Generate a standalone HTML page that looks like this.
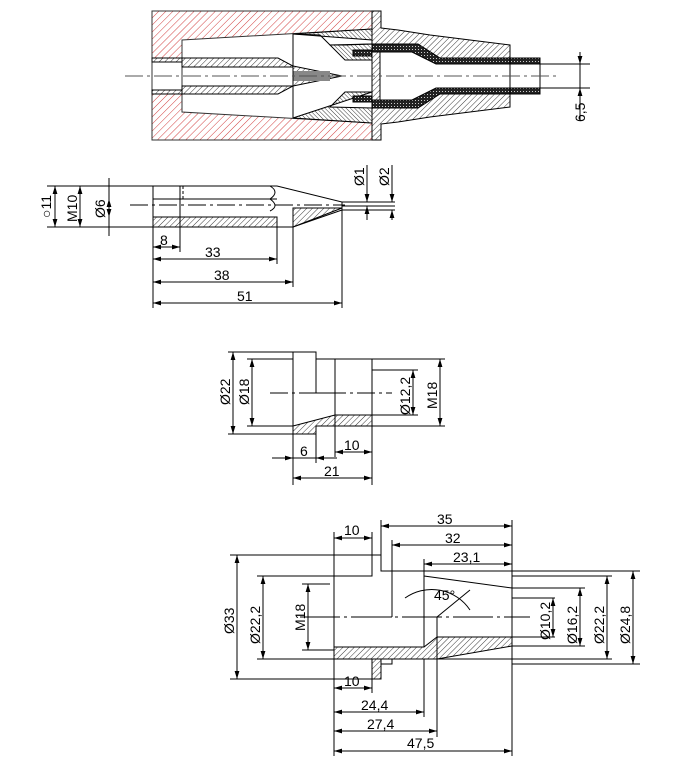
<!DOCTYPE html>
<html><head><style>
html,body{margin:0;padding:0;background:#fff}
svg{display:block}
text{font-family:"Liberation Sans",sans-serif;font-size:14px;fill:#000}
</style></head><body>
<svg width="689" height="768" viewBox="0 0 689 768" xmlns="http://www.w3.org/2000/svg">
<defs>
<pattern id="rh" patternUnits="userSpaceOnUse" width="5" height="5" patternTransform="rotate(45)"><rect width="5" height="5" fill="#fff"/><line x1="0" y1="0" x2="0" y2="5" stroke="#d24040" stroke-width="1"/></pattern>
<pattern id="h" patternUnits="userSpaceOnUse" width="4" height="4" patternTransform="rotate(45)"><rect width="4" height="4" fill="#fff"/><line x1="0" y1="0" x2="0" y2="4" stroke="#222" stroke-width="0.9"/></pattern>
<pattern id="h2" patternUnits="userSpaceOnUse" width="3" height="3" patternTransform="rotate(-45)"><rect width="3" height="3" fill="#fff"/><line x1="0" y1="0" x2="0" y2="3" stroke="#222" stroke-width="0.9"/></pattern>
<pattern id="dk" patternUnits="userSpaceOnUse" width="3" height="3"><rect width="3" height="3" fill="#222"/><rect x="1" y="1" width="1" height="1" fill="#ccc"/></pattern>
<marker id="a" viewBox="0 0 10 6" refX="10" refY="3" markerWidth="8" markerHeight="5" orient="auto-start-reverse"><path d="M0,0L10,3L0,6z" fill="#000"/></marker>
</defs>
<g stroke="#000" stroke-width="1" fill="none">
<path d="M152,11H372V140H152Z M182,40L372,29V123L182,112Z M152,62H182V90H152Z" fill="url(#rh)" fill-rule="evenodd" stroke="#333"/>
<path d="M152,58H182V62H152Z M152,90H182V94H152Z" fill="url(#h)"/>
<path d="M182,58H278L293,66V86L278,94H182V86H293V67H182Z" fill="url(#h)"/>
<path d="M293,66L342,76L293,86Z" fill="url(#h)"/>
<path d="M293,71H330V81H293Z" fill="#888" stroke="none"/>
<path d="M293,34L372,29V44L330,45L345,60L372,60V40Z" fill="url(#h2)"/>
<path d="M293,34L320,35L330,45H345L372,44" />
<path d="M293,118L372,123V108L330,107L345,92L372,92Z" fill="url(#h2)"/>
<path d="M372,11H381V28L398,30L430,35L510,45V58H425L410,50L380,48V104L410,102L425,94H510V107L430,117L398,122L381,124V140H372Z" fill="url(#h)"/>
<path d="M372,44H418L440,58H540V64H436L412,52H372Z" fill="url(#dk)"/>
<path d="M372,108H418L440,94H540V88H436L412,100H372Z" fill="url(#dk)"/>
<path d="M353,50H372V56H353Z M353,96H372V102H353Z" fill="url(#dk)"/>
<line x1="293" y1="34" x2="293" y2="118"/>
<line x1="510" y1="45" x2="510" y2="107"/>
<line x1="540" y1="58" x2="540" y2="94"/>
<line x1="125" y1="76" x2="560" y2="76" stroke="#555" stroke-dasharray="18,4,3,4"/>
<line x1="540" y1="64" x2="590" y2="64"/><line x1="540" y1="88" x2="590" y2="88"/>
<line x1="580" y1="52" x2="580" y2="64" marker-end="url(#a)"/><line x1="580" y1="100" x2="580" y2="88" marker-end="url(#a)"/>
<line x1="580" y1="64" x2="580" y2="120"/>

<path d="M153,186H277L342,202V210L293,227H153Z"/>
<path d="M153,217H277V227H153Z M293,208H342L293,227Z" fill="url(#h)"/>
<path d="M277,227L293,227V208" />
<line x1="153" y1="199" x2="180" y2="199"/>
<path d="M153,186H183V199" stroke-dasharray="3,2"/>
<line x1="180" y1="199" x2="277" y2="199"/>
<line x1="180" y1="186" x2="180" y2="227"/>
<path d="M270,186Q280,192 270,199 M270,199Q280,206 270,211"/>
<line x1="130" y1="205" x2="345" y2="205" stroke-dasharray="18,4,3,4"/>
<line x1="342" y1="202" x2="395" y2="202"/><line x1="342" y1="206" x2="395" y2="206"/><line x1="342" y1="210" x2="395" y2="210"/>
<line x1="47" y1="186" x2="153" y2="186"/><line x1="47" y1="227" x2="153" y2="227"/>
<line x1="55" y1="186" x2="55" y2="227" marker-start="url(#a)" marker-end="url(#a)"/>
<line x1="80" y1="186" x2="80" y2="227" marker-start="url(#a)" marker-end="url(#a)"/>
<line x1="109" y1="178" x2="109" y2="236" />
<line x1="109" y1="199" x2="109" y2="217" marker-start="url(#a)" marker-end="url(#a)"/>
<line x1="367" y1="165" x2="367" y2="202" marker-end="url(#a)"/><line x1="367" y1="220" x2="367" y2="206" marker-end="url(#a)"/>
<line x1="392" y1="165" x2="392" y2="202" marker-end="url(#a)"/><line x1="392" y1="220" x2="392" y2="210" marker-end="url(#a)"/>
<line x1="153" y1="227" x2="153" y2="308"/><line x1="180" y1="227" x2="180" y2="252"/>
<line x1="277" y1="227" x2="277" y2="264"/><line x1="293" y1="227" x2="293" y2="287"/><line x1="342" y1="210" x2="342" y2="308"/>
<line x1="153" y1="247" x2="180" y2="247" marker-start="url(#a)" marker-end="url(#a)"/>
<line x1="153" y1="259" x2="277" y2="259" marker-start="url(#a)" marker-end="url(#a)"/>
<line x1="153" y1="282" x2="293" y2="282" marker-start="url(#a)" marker-end="url(#a)"/>
<line x1="153" y1="303" x2="342" y2="303" marker-start="url(#a)" marker-end="url(#a)"/>

<path d="M293,352H316V359H372V426H316V434H293Z"/>
<line x1="316" y1="359" x2="316" y2="393"/><line x1="335" y1="359" x2="335" y2="415"/>
<path d="M316,393H335V415"/>
<path d="M293,426L335,415H372V426H316V434H293Z" fill="url(#h)"/>
<line x1="270" y1="393" x2="392" y2="393" stroke-dasharray="18,4,3,4"/>
<line x1="228" y1="352" x2="293" y2="352"/><line x1="228" y1="434" x2="293" y2="434"/>
<line x1="247" y1="359" x2="293" y2="359"/><line x1="247" y1="426" x2="293" y2="426"/>
<line x1="372" y1="359" x2="445" y2="359"/><line x1="372" y1="426" x2="445" y2="426"/>
<line x1="372" y1="370" x2="418" y2="370"/><line x1="372" y1="415" x2="418" y2="415"/>
<line x1="233" y1="352" x2="233" y2="434" marker-start="url(#a)" marker-end="url(#a)"/>
<line x1="252" y1="359" x2="252" y2="426" marker-start="url(#a)" marker-end="url(#a)"/>
<line x1="413" y1="370" x2="413" y2="415" marker-start="url(#a)" marker-end="url(#a)"/>
<line x1="440" y1="359" x2="440" y2="426" marker-start="url(#a)" marker-end="url(#a)"/>
<line x1="293" y1="434" x2="293" y2="485"/><line x1="316" y1="434" x2="316" y2="463"/>
<line x1="335" y1="415" x2="335" y2="457"/><line x1="372" y1="426" x2="372" y2="485"/>
<line x1="272" y1="458" x2="293" y2="458" marker-end="url(#a)"/><line x1="337" y1="458" x2="316" y2="458" marker-end="url(#a)"/><line x1="293" y1="458" x2="316" y2="458"/>
<line x1="335" y1="452" x2="372" y2="452" marker-start="url(#a)" marker-end="url(#a)"/>
<line x1="293" y1="478" x2="372" y2="478" marker-start="url(#a)" marker-end="url(#a)"/>

<path d="M334,576H372V555H381V571H512V659H381V679H372V659H334Z"/>
<line x1="392" y1="571" x2="392" y2="617"/><line x1="424" y1="576" x2="424" y2="659"/>
<path d="M424,576L512,588"/>
<path d="M372,617H392"/>
<path d="M512,598H555 M512,637H555"/>
<path d="M334,647H424L437,637H512V646L437,659H334Z" fill="url(#h)"/>
<path d="M372,659H381V679H372Z" fill="url(#h)"/>
<path d="M381,659H392V664H381Z"/>
<line x1="437" y1="617" x2="437" y2="737"/>
<line x1="437" y1="617" x2="470" y2="590"/>
<path d="M405,598A46,46 0 0 1 470,610" />
<line x1="300" y1="617" x2="530" y2="617" stroke-dasharray="40,4,3,4"/>
<line x1="230" y1="555" x2="372" y2="555"/><line x1="230" y1="679" x2="372" y2="679"/>
<line x1="257" y1="576" x2="334" y2="576"/><line x1="257" y1="659" x2="334" y2="659"/>
<line x1="302" y1="584" x2="330" y2="584"/><line x1="302" y1="650" x2="334" y2="650"/>
<line x1="237" y1="555" x2="237" y2="679" marker-start="url(#a)" marker-end="url(#a)"/>
<line x1="263" y1="576" x2="263" y2="659" marker-start="url(#a)" marker-end="url(#a)"/>
<line x1="308" y1="584" x2="308" y2="650" marker-start="url(#a)" marker-end="url(#a)"/>
<line x1="512" y1="571" x2="640" y2="571"/><line x1="512" y1="664" x2="640" y2="664"/>
<line x1="512" y1="576" x2="612" y2="576"/><line x1="512" y1="659" x2="612" y2="659"/>
<line x1="512" y1="588" x2="585" y2="588"/><line x1="512" y1="646" x2="585" y2="646"/>
<line x1="553" y1="598" x2="553" y2="637" marker-start="url(#a)" marker-end="url(#a)"/>
<line x1="580" y1="588" x2="580" y2="646" marker-start="url(#a)" marker-end="url(#a)"/>
<line x1="607" y1="576" x2="607" y2="659" marker-start="url(#a)" marker-end="url(#a)"/>
<line x1="633" y1="571" x2="633" y2="664" marker-start="url(#a)" marker-end="url(#a)"/>
<line x1="334" y1="532" x2="334" y2="756"/><line x1="372" y1="532" x2="372" y2="555"/><line x1="381" y1="520" x2="381" y2="555"/>
<line x1="392" y1="540" x2="392" y2="571"/><line x1="424" y1="559" x2="424" y2="576"/><line x1="424" y1="659" x2="424" y2="717"/>
<line x1="512" y1="520" x2="512" y2="756"/><line x1="372" y1="679" x2="372" y2="693"/>
<line x1="334" y1="538" x2="372" y2="538" marker-start="url(#a)" marker-end="url(#a)"/>
<line x1="381" y1="526" x2="512" y2="526" marker-start="url(#a)" marker-end="url(#a)"/>
<line x1="392" y1="545" x2="512" y2="545" marker-start="url(#a)" marker-end="url(#a)"/>
<line x1="424" y1="564" x2="512" y2="564" marker-start="url(#a)" marker-end="url(#a)"/>
<line x1="334" y1="688" x2="372" y2="688" marker-start="url(#a)" marker-end="url(#a)"/>
<line x1="334" y1="712" x2="424" y2="712" marker-start="url(#a)" marker-end="url(#a)"/>
<line x1="334" y1="731" x2="437" y2="731" marker-start="url(#a)" marker-end="url(#a)"/>
<line x1="334" y1="751" x2="512" y2="751" marker-start="url(#a)" marker-end="url(#a)"/>
</g>
<g>
<text transform="translate(585,122) rotate(-90)">6,5</text>
<text transform="translate(51,218) rotate(-90)">○11</text>
<text transform="translate(77,222) rotate(-90)">M10</text>
<text transform="translate(105,218) rotate(-90)">Ø6</text>
<text transform="translate(364,186) rotate(-90)">Ø1</text>
<text transform="translate(389,186) rotate(-90)">Ø2</text>
<text x="160" y="245">8</text><text x="205" y="257">33</text><text x="214" y="280">38</text><text x="237" y="301">51</text>
<text transform="translate(230,405) rotate(-90)">Ø22</text>
<text transform="translate(249,405) rotate(-90)">Ø18</text>
<text transform="translate(410,415) rotate(-90)">Ø12,2</text>
<text transform="translate(437,409) rotate(-90)">M18</text>
<text x="300" y="456">6</text><text x="344" y="450">10</text><text x="324" y="476">21</text>
<text x="344" y="535">10</text><text x="437" y="524">35</text><text x="445" y="543">32</text><text x="453" y="562">23,1</text>
<text x="434" y="600" font-size="12">45°</text>
<text x="344" y="686">10</text><text x="361" y="710">24,4</text><text x="367" y="729">27,4</text><text x="407" y="748">47,5</text>
<text transform="translate(234,634) rotate(-90)">Ø33</text>
<text transform="translate(260,644) rotate(-90)">Ø22,2</text>
<text transform="translate(305,631) rotate(-90)">M18</text>
<text transform="translate(550,640) rotate(-90)">Ø10,2</text>
<text transform="translate(577,644) rotate(-90)">Ø16,2</text>
<text transform="translate(604,644) rotate(-90)">Ø22,2</text>
<text transform="translate(630,644) rotate(-90)">Ø24,8</text>
</g>
</svg>
</body></html>
